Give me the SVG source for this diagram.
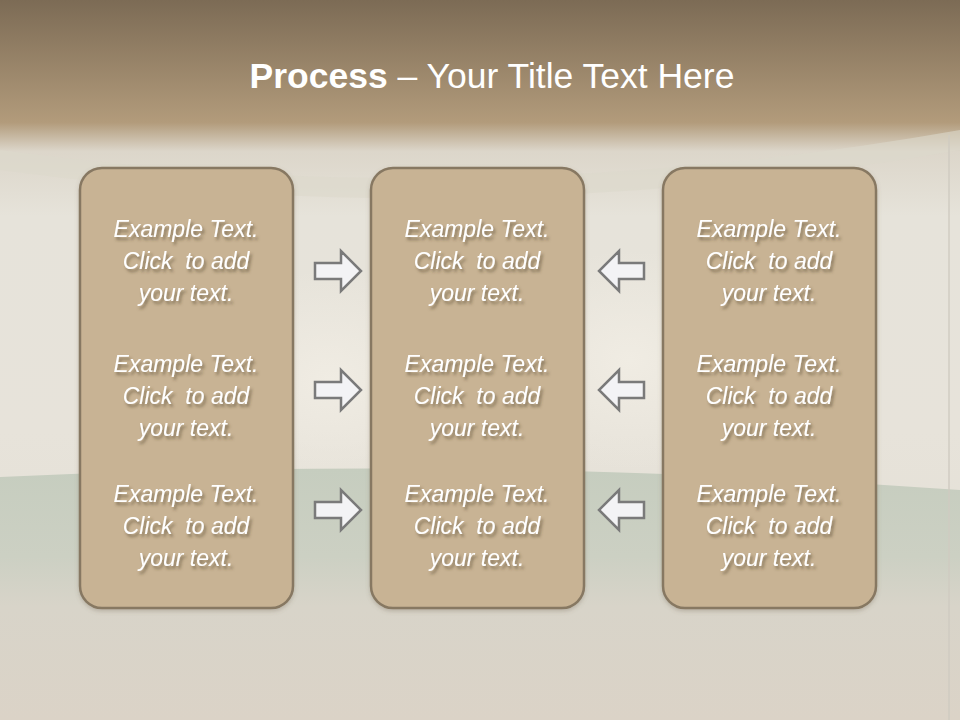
<svg xmlns="http://www.w3.org/2000/svg" width="960" height="720" viewBox="0 0 960 720">
<defs>
<linearGradient id="bg" x1="0" y1="0" x2="0" y2="1">
<stop offset="0" stop-color="#7c6b55"/>
<stop offset="0.17" stop-color="#b29b7b"/>
<stop offset="0.21" stop-color="#dcd6ca"/>
<stop offset="0.3" stop-color="#e6e3da"/>
<stop offset="0.6" stop-color="#e7e3da"/>
<stop offset="1" stop-color="#e2ddd3"/>
</linearGradient>
<linearGradient id="floor" x1="0" y1="0" x2="0" y2="1">
<stop offset="0" stop-color="#c6cdbf"/>
<stop offset="0.35" stop-color="#ccd0c3"/>
<stop offset="0.55" stop-color="#d8d4c9"/>
<stop offset="1" stop-color="#dbd3c7"/>
</linearGradient>
<radialGradient id="glow" cx="0.5" cy="0.5" r="0.5">
<stop offset="0" stop-color="#f1ede4" stop-opacity="0.9"/>
<stop offset="1" stop-color="#f1ede4" stop-opacity="0"/>
</radialGradient>
<filter id="ts" x="-10%" y="-30%" width="130%" height="180%">
<feDropShadow dx="2" dy="3" stdDeviation="1.5" flood-color="#4e3f2c" flood-opacity="0.55"/>
</filter>
<filter id="bs" x="-10%" y="-10%" width="120%" height="120%">
<feDropShadow dx="0" dy="2" stdDeviation="2" flood-color="#6b5d4a" flood-opacity="0.3"/>
</filter>
</defs>
<style>
.box{fill:#c8b394;stroke:#877862;stroke-width:2.5}
.arr{fill:#f3f3f5;stroke:#7a7a7a;stroke-width:2.5;stroke-linejoin:miter}
.t{font-family:"Liberation Sans",Arial,sans-serif;font-style:italic;font-size:23px;fill:#ffffff;text-anchor:middle;white-space:pre}
.title{font-family:"Liberation Sans",Arial,sans-serif;font-size:35.5px;fill:#ffffff;text-anchor:middle}
</style>
<g id="background">
<rect width="960" height="720" fill="url(#bg)"/>
<path d="M0,150 Q480,215 960,130 L960,150 Q480,235 0,170 Z" fill="#dcd8cc" opacity="0.6"/>
<ellipse cx="330" cy="380" rx="140" ry="110" fill="url(#glow)"/>
<ellipse cx="630" cy="360" rx="140" ry="110" fill="url(#glow)"/>
<path d="M0,477 Q480,455 960,490 L960,720 L0,720 Z" fill="url(#floor)"/>
<rect x="948" y="135" width="2" height="585" fill="#cfcbc0" opacity="0.7"/>
</g>
<g id="title">
<text class="title" x="492" y="88"><tspan font-weight="bold">Process</tspan> – Your Title Text Here</text>
</g>
<g id="node-left">
<rect class="box" x="80" y="168" width="213" height="440" rx="22" filter="url(#bs)"/>
<g filter="url(#ts)">
<text class="t" x="186" y="237">Example Text.</text>
<text class="t" x="186" y="269" xml:space="preserve">Click  to add</text>
<text class="t" x="186" y="301">your text.</text>
<text class="t" x="186" y="372">Example Text.</text>
<text class="t" x="186" y="404" xml:space="preserve">Click  to add</text>
<text class="t" x="186" y="436">your text.</text>
<text class="t" x="186" y="502">Example Text.</text>
<text class="t" x="186" y="534" xml:space="preserve">Click  to add</text>
<text class="t" x="186" y="566">your text.</text>
</g>
</g>
<g id="node-middle">
<rect class="box" x="371" y="168" width="213" height="440" rx="22" filter="url(#bs)"/>
<g filter="url(#ts)">
<text class="t" x="477" y="237">Example Text.</text>
<text class="t" x="477" y="269" xml:space="preserve">Click  to add</text>
<text class="t" x="477" y="301">your text.</text>
<text class="t" x="477" y="372">Example Text.</text>
<text class="t" x="477" y="404" xml:space="preserve">Click  to add</text>
<text class="t" x="477" y="436">your text.</text>
<text class="t" x="477" y="502">Example Text.</text>
<text class="t" x="477" y="534" xml:space="preserve">Click  to add</text>
<text class="t" x="477" y="566">your text.</text>
</g>
</g>
<g id="node-right">
<rect class="box" x="663" y="168" width="213" height="440" rx="22" filter="url(#bs)"/>
<g filter="url(#ts)">
<text class="t" x="769" y="237">Example Text.</text>
<text class="t" x="769" y="269" xml:space="preserve">Click  to add</text>
<text class="t" x="769" y="301">your text.</text>
<text class="t" x="769" y="372">Example Text.</text>
<text class="t" x="769" y="404" xml:space="preserve">Click  to add</text>
<text class="t" x="769" y="436">your text.</text>
<text class="t" x="769" y="502">Example Text.</text>
<text class="t" x="769" y="534" xml:space="preserve">Click  to add</text>
<text class="t" x="769" y="566">your text.</text>
</g>
</g>
<g id="connectors">
<path class="arr" d="M315,263 H341 V251 L361,271 L341,291 V279 H315 Z"/>
<path class="arr" d="M315,382 H341 V370 L361,390 L341,410 V398 H315 Z"/>
<path class="arr" d="M315,502 H341 V490 L361,510 L341,530 V518 H315 Z"/>
<path class="arr" d="M644,263 H619 V251 L599,271 L619,291 V279 H644 Z"/>
<path class="arr" d="M644,382 H619 V370 L599,390 L619,410 V398 H644 Z"/>
<path class="arr" d="M644,502 H619 V490 L599,510 L619,530 V518 H644 Z"/>
</g>
</svg>
